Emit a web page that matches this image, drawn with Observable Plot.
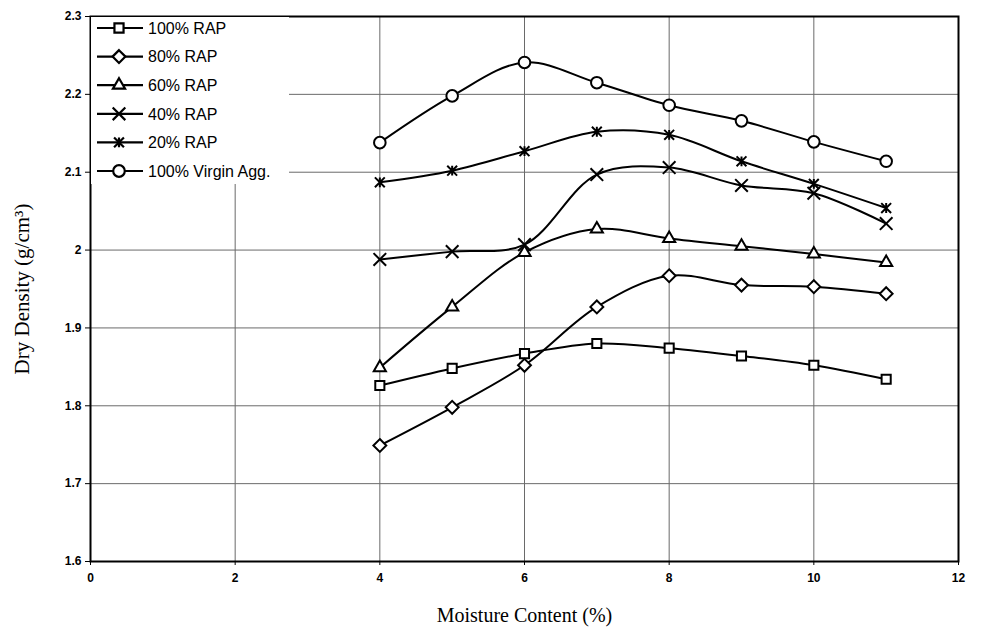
<!DOCTYPE html>
<html>
<head>
<meta charset="utf-8">
<script src="https://cdn.jsdelivr.net/npm/d3@7"></script>
<script src="https://cdn.jsdelivr.net/npm/@observablehq/plot@0.6"></script>
<style>
  html, body { margin: 0; padding: 0; background: #fff; }
  #chart { width: 989px; height: 633px; }
</style>
</head>
<body>
<div id="chart"></div>
<script>
const moisture = [4, 5, 6, 7, 8, 9, 10, 11];
const seriesNames = ["100% RAP", "80% RAP", "60% RAP", "40% RAP", "20% RAP", "100% Virgin Agg."];
const rap100 = [1.826, 1.848, 1.867, 1.880, 1.874, 1.864, 1.852, 1.834];
const rap80  = [1.749, 1.798, 1.852, 1.927, 1.967, 1.955, 1.953, 1.944];
const rap60  = [1.849, 1.927, 1.997, 2.027, 2.015, 2.005, 1.995, 1.984];
const rap40  = [1.988, 1.998, 2.007, 2.097, 2.106, 2.083, 2.073, 2.034];
const rap20  = [2.087, 2.102, 2.127, 2.152, 2.148, 2.114, 2.085, 2.054];
const virgin = [2.138, 2.198, 2.241, 2.215, 2.186, 2.166, 2.139, 2.114];
const xTicks = [0, 2, 4, 6, 8, 10, 12];
const yTicks = [1.6, 1.7, 1.8, 1.9, 2.0, 2.1, 2.2, 2.3];

// X with a vertical bar (Excel-style asterisk marker)
const starX = {
  draw(context, size) {
    const r = Math.sqrt(size / Math.PI);
    const a = r * 0.85;
    context.moveTo(-a, -a); context.lineTo(a, a);
    context.moveTo(-a, a); context.lineTo(a, -a);
    context.moveTo(0, -a); context.lineTo(0, a);
  }
};
const seriesSymbols = [d3.symbolSquare2, d3.symbolDiamond2, d3.symbolTriangle2, d3.symbolTimes, starX, d3.symbolCircle];

const allValues = [rap100, rap80, rap60, rap40, rap20, virgin];
const data = [];
allValues.forEach((vals, si) => {
  vals.forEach((v, i) => data.push({series: seriesNames[si], x: moisture[i], y: v}));
});

const fmt = d => String(+d.toFixed(1));
const R = 5.8;

const chart = Plot.plot({
  width: 989,
  height: 633,
  marginLeft: 90,
  marginRight: 31,
  marginTop: 16,
  marginBottom: 72,
  style: {fontFamily: "'Liberation Sans', Arial, sans-serif", background: "#fff"},
  x: {domain: [0, 12]},
  y: {domain: [1.6, 2.3]},
  symbol: {domain: seriesNames, range: seriesSymbols},
  marks: [
    Plot.gridX(xTicks, {stroke: "#6a6a6a", strokeOpacity: 1, strokeWidth: 1}),
    Plot.gridY(yTicks, {stroke: "#6a6a6a", strokeOpacity: 1, strokeWidth: 1}),
    Plot.axisX(xTicks, {tickSize: 4, tickPadding: 8, label: null, tickFormat: d => String(d)}),
    Plot.axisY(yTicks, {tickSize: 5, tickPadding: 4, label: null, tickFormat: fmt}),
    Plot.line(data, {x: "x", y: "y", z: "series", curve: "catmull-rom", stroke: "black", strokeWidth: 2}),
    Plot.dot(data, {x: "x", y: "y", symbol: "series", fill: "white", stroke: "black", strokeWidth: 2, r: R}),
    Plot.frame({stroke: "black", strokeWidth: 2}),
    Plot.text(["Moisture Content (%)"], {frameAnchor: "bottom", dy: 60, fontSize: 20, fontFamily: "'Liberation Serif', 'Times New Roman', serif", fill: "black"}),
    Plot.text(["Dry Density (g/cm³)"], {frameAnchor: "left", textAnchor: "middle", dx: -68, rotate: -90, fontSize: 21, fontFamily: "'Liberation Serif', 'Times New Roman', serif", fill: "black"})
  ]
});

document.getElementById("chart").appendChild(chart);

const svg = d3.select(chart);
// Bolder, larger tick labels like the scanned original
svg.selectAll("g[aria-label$='tick label'] text")
  .style("font-size", "12px").style("font-weight", "bold");

// Legend inside the plot area (top-left), drawn after the plot
const lg = svg.append("g");
lg.append("rect").attr("x", 91).attr("y", 17).attr("width", 198).attr("height", 167).attr("fill", "white");
seriesNames.forEach((name, i) => {
  const cy = 28 + i * 28.6;
  lg.append("line").attr("x1", 97).attr("x2", 143).attr("y1", cy).attr("y2", cy).attr("stroke", "black").attr("stroke-width", 2.2);
  lg.append("path").attr("transform", `translate(119,${cy})`)
    .attr("d", d3.symbol(seriesSymbols[i], R * R * Math.PI)())
    .attr("fill", "white").attr("stroke", "black").attr("stroke-width", 2.2);
  lg.append("text").attr("x", 148).attr("y", cy).attr("dy", "0.36em")
    .style("font-size", "16px").style("font-family", "'Liberation Sans', Arial, sans-serif")
    .style("text-anchor", "start")
    .attr("fill", "black").text(name);
});
</script>
</body>
</html>
